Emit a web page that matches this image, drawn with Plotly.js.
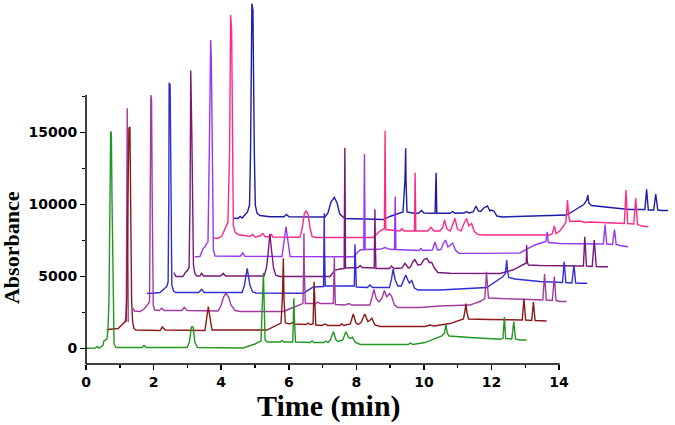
<!DOCTYPE html>
<html>
<head>
<meta charset="utf-8">
<script src="https://cdn.plot.ly/plotly-3.0.1.min.js"></script>
<style>html,body{margin:0;padding:0;background:#fff;}#chart{width:675px;height:425px;}</style>
</head>
<body>
<div id="chart"></div>
<script>
// ---- Data (displayed time in min, displayed absorbance incl. stacking offset) ----
const greenTime = [0,0.27,0.33,0.38,0.44,0.50,0.53,0.58,0.62,0.65,0.68,0.71,0.73,0.75,0.77,0.80,0.83,0.89,1.66,1.72,1.79,2.99,3.06,3.12,3.17,3.22,3.30,4.65,5.00,5.18,5.22,5.25,5.27,5.30,5.36,5.74,5.80,5.86,6.12,6.14,6.15,6.17,6.20,6.63,6.69,6.75,7.04,7.10,7.16,7.23,7.32,7.40,7.46,7.60,7.69,7.77,7.81,7.89,7.96,8.11,9.29,9.53,9.60,9.67,10.03,10.33,10.53,10.61,10.65,10.69,10.74,11.36,12.25,12.34,12.38,12.42,12.60,12.66,12.71,12.84,13.04];
const greenAbs  = [0,20,125,20,105,195,505,575,645,1270,3350,10300,15060,14950,10300,3350,300,55,55,195,55,55,440,1480,1480,440,55,20,300,505,3350,5250,3350,575,440,440,540,440,440,1965,3470,1965,440,400,505,400,400,505,400,575,1150,575,470,575,1150,750,680,760,440,265,230,265,370,265,400,680,855,1060,1665,1060,855,750,625,680,2195,680,645,1860,645,575,575];

const darkRedTime = [0.61,0.65,0.95,1.04,1.11,1.15,1.18,1.21,1.24,1.27,1.30,1.32,1.35,1.38,1.42,1.48,2.19,2.26,2.34,3.52,3.56,3.62,3.68,3.73,5.35,5.59,5.77,5.81,5.84,5.86,5.90,6.04,6.10,6.16,6.51,6.57,6.63,6.72,6.74,6.75,6.77,6.80,6.98,7.07,7.16,7.51,7.57,7.63,7.82,7.91,7.99,8.05,8.14,8.25,8.34,8.38,8.46,8.55,8.70,10.03,10.18,10.30,10.77,11.17,11.22,11.24,11.27,11.32,11.95,12.91,12.96,13.01,13.19,13.24,13.29,13.43,13.63];
const darkRedAbs  = [1270,1305,1375,1550,1690,1825,2105,3350,10300,15300,15370,10300,3350,1825,1375,1270,1235,1480,1270,1235,1965,2890,1965,1270,1270,1550,1755,3350,6250,3350,1755,1690,1790,1690,1655,1755,1655,1690,3350,4625,3350,1620,1585,1690,1585,1585,1690,1585,1690,2380,1755,1655,1790,2380,1860,1895,2085,1620,1515,1515,1620,1550,1720,2035,2660,3110,2520,2035,2000,1965,3445,1965,1930,3215,1930,1895,1895];

const purpleTime = [1.19,1.22,1.25,null,1.40,1.43,1.60,1.72,1.78,1.83,1.88,1.90,1.92,1.94,1.96,1.99,2.03,2.17,2.24,2.31,2.84,2.91,2.99,3.91,3.99,4.07,4.14,4.22,4.29,4.41,4.56,5.84,6.09,6.33,6.42,6.44,6.45,6.46,6.49,6.80,6.86,6.92,7.32,7.33,7.35,7.36,7.38,7.66,7.78,7.87,8.40,8.46,8.52,8.59,8.67,8.76,8.83,8.90,8.98,9.04,9.13,9.23,9.88,10.47,11.36,11.66,11.80,11.83,11.85,11.88,11.91,12.25,13.14,13.52,13.57,13.62,13.80,13.86,13.91,14.02,14.22];
const purpleAbs  = [1825,16670,1825,null,2780,2590,2555,2730,2900,3075,3215,10300,17590,17240,10300,3005,2660,2625,2780,2625,2625,2845,2625,2590,2940,3560,3820,3560,3005,2625,2555,2555,2800,3040,3110,5435,7985,5435,3110,3110,3215,3110,3110,4745,6320,4745,3040,3005,3110,3005,3005,3495,4095,3425,3215,3495,4015,3560,3805,3630,3005,2835,2835,2935,3005,3250,3460,4395,5320,4395,3495,3460,3355,3355,5160,3355,3320,4985,3320,3250,3250];

const blueTime = [1.80,1.89,2.19,2.26,2.34,2.39,2.43,2.45,2.46,2.49,2.51,2.54,2.59,2.66,3.34,3.42,3.50,4.62,4.69,4.77,4.85,4.93,5.03,6.43,6.72,6.92,7.03,7.04,7.05,7.06,7.08,7.51,7.94,7.95,7.96,7.98,8.00,8.33,8.40,8.48,8.98,9.04,9.09,9.15,9.23,9.33,9.39,9.46,9.53,9.57,9.64,9.72,9.82,10.47,11.86,12.10,12.34,12.41,12.43,12.45,12.47,12.51,12.69,13.43,14.10,14.15,14.20,14.38,14.44,14.49,14.62,14.83];
const blueAbs  = [3820,3805,3875,4050,4185,4290,4605,10300,18445,18285,10300,4395,3980,3875,3875,4095,3875,3875,4395,5555,4395,3910,3840,3820,4255,4290,4290,6825,9375,6825,4325,4325,4325,5785,7220,5785,4255,4220,4395,4220,4220,4810,5505,4745,4325,4325,4745,5090,4710,4535,4710,4185,4050,4050,4220,4605,4985,5195,5785,6130,5435,4915,4810,4640,4570,6015,4570,4535,5785,4535,4515,4515];

const plumTime = [2.60,2.66,2.87,2.93,3.00,3.05,3.08,3.10,3.13,3.15,3.18,3.22,3.28,3.37,3.42,3.48,3.99,4.06,4.13,5.27,5.34,5.40,5.44,5.49,5.55,5.62,5.74,7.22,7.37,7.51,7.64,7.65,7.66,7.67,7.68,7.81,8.05,8.11,8.17,8.53,8.54,8.55,8.56,8.58,8.98,9.04,9.11,9.35,9.44,9.54,9.60,9.67,9.73,9.82,9.91,10.00,10.08,10.16,10.23,10.31,10.41,10.77,12.25,12.63,12.96,13.03,13.04,13.06,13.09,13.43,14.72,14.76,14.81,14.98,15.04,15.10,15.21,15.45];
const plumAbs  = [5265,4985,4985,5230,5405,5610,10300,19290,15160,10300,5785,5195,5020,5020,5210,5020,5020,5210,5020,5020,5575,6825,7935,6825,5575,5055,4985,4985,5435,5505,5540,10300,13930,10300,5575,5575,5610,5750,5610,5575,7520,9650,7520,5540,5540,5715,5540,5575,5905,5575,5645,5995,6165,5785,5820,6165,6250,5960,5960,5575,5265,5210,5195,5435,5855,5925,7175,5995,5785,5750,5715,7750,5715,5680,7520,5680,5665,5665];

const violetTime = [3.22,3.37,3.47,3.52,3.57,3.61,3.65,3.69,3.71,3.74,3.77,3.82,4.56,4.64,4.70,5.80,5.86,5.92,5.98,6.04,7.91,8.11,8.22,8.23,8.24,8.25,8.26,8.55,8.70,8.85,8.99,9.13,9.14,9.15,9.16,9.17,9.59,9.85,9.91,9.97,10.25,10.33,10.40,10.50,10.58,10.64,10.71,10.77,10.85,10.93,11.04,11.66,12.84,13.28,13.61,13.65,13.68,14.02,15.31,15.36,15.41,15.58,15.64,15.69,15.80,16.04];
const violetAbs  = [6360,6375,6945,7035,7290,7380,13770,21410,20020,10300,6825,6410,6390,6620,6390,6375,7380,8445,7380,6375,6360,6825,6860,10300,13490,10300,6860,6860,6875,7000,6875,6860,8910,10530,8910,6860,6790,6790,6930,6790,6825,7380,6825,6860,7310,7520,7035,7140,7310,6825,6595,6595,6620,7175,7415,8095,7345,7280,7245,8595,7245,7210,8250,7210,7140,7055];

const pinkTime = [3.79,3.91,4.02,4.08,4.11,4.16,4.20,4.25,4.28,4.31,4.33,4.36,4.41,4.50,4.85,4.93,5.00,5.15,5.23,5.30,5.44,5.49,5.53,6.33,6.40,6.46,6.51,6.57,6.63,6.69,6.80,8.50,8.70,8.83,8.84,8.85,8.86,8.87,9.14,9.29,9.35,9.41,9.72,9.73,9.74,9.75,9.76,10.12,10.21,10.30,10.47,10.55,10.61,10.68,10.78,10.85,10.92,10.99,11.10,11.18,11.26,11.33,11.41,11.49,11.60,11.81,13.73,13.80,13.86,13.91,14.02,14.20,14.23,14.25,14.28,14.32,14.62,14.76,14.91,15.21,15.50,15.80,15.93,15.98,16.03,16.21,16.27,16.32,16.45,16.64];
const pinkAbs  = [7640,7640,7800,8145,8285,8495,8770,13770,23145,22105,13770,8560,8075,7905,7765,7905,7730,7800,7970,7765,7730,7905,7730,7710,8355,9325,9555,9325,8355,7765,7695,7695,8145,8320,11690,15110,11690,8250,8215,8145,8320,8145,8145,10300,12195,10300,8145,8145,8405,8145,8145,8355,8910,8285,8145,8630,9030,8285,8145,8630,9015,8495,8665,8110,7905,7870,7870,7970,8495,7970,8145,8735,9605,10300,9255,8805,8840,8735,8770,8735,8700,8665,8665,10995,8665,8630,10415,8595,8495,8445];

const navyTime = [4.38,4.50,4.56,4.62,4.70,4.78,4.84,4.87,4.91,4.94,4.98,5.01,5.06,5.15,5.44,5.86,5.93,6.01,7.07,7.16,7.25,7.35,7.43,7.51,7.66,8.80,8.99,9.29,9.38,9.44,9.46,9.47,9.50,9.73,9.85,9.93,10.00,10.33,10.34,10.36,10.37,10.38,10.77,10.85,10.92,11.18,11.26,11.33,11.46,11.54,11.61,11.68,11.77,11.88,11.95,11.99,12.07,12.16,12.31,13.43,14.22,14.47,14.73,14.82,14.85,14.88,14.96,15.50,15.95,16.09,16.39,16.54,16.59,16.64,16.80,16.86,16.92,17.04,17.23];
const navyAbs  = [9030,9015,9155,9050,9255,9465,9950,13770,23945,23495,13770,9950,9395,9220,9140,9140,9290,9140,9120,9395,10160,10485,10090,9325,9015,8945,9155,9395,9465,11690,13890,11690,9465,9360,9395,9570,9395,9375,10995,12195,10995,9375,9375,9500,9375,9395,9500,9395,9465,9880,9535,9500,9745,9880,9535,9605,9535,9185,9120,9220,9255,9605,9985,10300,10645,10090,9915,9780,9675,9640,9640,9640,11040,9605,9605,10715,9605,9570,9570];

const xTickVals = [0,2,4,6,8,10,12,14];
const xMinorVals = [1,3,5,7,9,11,13];
const yTickVals = [0,5000,10000,15000];
const yMinorVals = [2500,7500,12500,17500];

// ---- Axis extents ----
const X_AXIS_END = 14.02;
const Y_AXIS_MIN = -1090, Y_AXIS_TOP = 17590;
const X_RANGE = [0, 17.43];
const Y_RANGE = [Y_AXIS_MIN, 24190];

const series = [
  {x: navyTime, y: navyAbs, color: '#1c1ca8'},
  {x: pinkTime, y: pinkAbs, color: '#ff2a85'},
  {x: violetTime, y: violetAbs, color: '#9638f5'},
  {x: plumTime, y: plumAbs, color: '#7a187a'},
  {x: blueTime, y: blueAbs, color: '#2f2fd2'},
  {x: purpleTime, y: purpleAbs, color: '#a23aa2'},
  {x: darkRedTime, y: darkRedAbs, color: '#8b1a1a'},
  {x: greenTime, y: greenAbs, color: '#239623'}
];

const traces = series.map(s => ({
  type: 'scatter', mode: 'lines', x: s.x, y: s.y,
  line: {color: s.color, width: 1.4}, connectgaps: false,
  hoverinfo: 'skip', showlegend: false
}));

const tickFont = {family: 'DejaVu Sans', size: 14, color: '#000', weight: 'bold'};

const layout = {
  width: 675, height: 425,
  margin: {l: 86, r: 0, t: 0, b: 61},
  paper_bgcolor: '#fff', plot_bgcolor: '#fff',
  showlegend: false,
  xaxis: {
    range: X_RANGE, showline: false, showgrid: false, zeroline: false,
    tickmode: 'array', tickvals: xTickVals, ticktext: xTickVals.map(String),
    ticks: 'outside', ticklen: 5, tickwidth: 1.5, tickcolor: '#000',
    tickfont: tickFont,
    minor: {tickmode: 'array', tickvals: xMinorVals, ticks: 'outside', ticklen: 3, tickwidth: 1.5, tickcolor: '#000', showgrid: false}
  },
  yaxis: {
    range: Y_RANGE, showline: false, showgrid: false, zeroline: false,
    tickmode: 'array', tickvals: yTickVals, ticktext: yTickVals.map(String),
    ticks: 'outside', ticklen: 5, tickwidth: 1.5, tickcolor: '#000',
    tickfont: tickFont,
    minor: {tickmode: 'array', tickvals: yMinorVals, ticks: 'outside', ticklen: 3, tickwidth: 1.5, tickcolor: '#000', showgrid: false}
  },
  shapes: [
    {type: 'line', xref: 'x', yref: 'paper', x0: 0, x1: X_AXIS_END, y0: 0, y1: 0, line: {color: '#000', width: 1.5}},
    {type: 'line', xref: 'paper', yref: 'y', x0: 0, x1: 0, y0: Y_AXIS_MIN, y1: Y_AXIS_TOP, line: {color: '#000', width: 1.5}}
  ],
  annotations: [
    {text: 'Time (min)', xref: 'paper', yref: 'paper', x: 0.4126, y: -0.116, xanchor: 'center', yanchor: 'middle', showarrow: false,
     borderpad: 0,
     font: {family: 'Liberation Serif', size: 30, color: '#000', weight: 'bold'}},
    {text: 'Absorbance', xref: 'paper', yref: 'paper', x: -0.1256, y: 0.3187, xanchor: 'center', yanchor: 'middle', textangle: -90, showarrow: false,
     borderpad: 0,
     font: {family: 'Liberation Serif', size: 22, color: '#000', weight: 'bold'}}
  ]
};

Plotly.newPlot('chart', traces, layout, {displayModeBar: false, staticPlot: true});
</script>
</body>
</html>
